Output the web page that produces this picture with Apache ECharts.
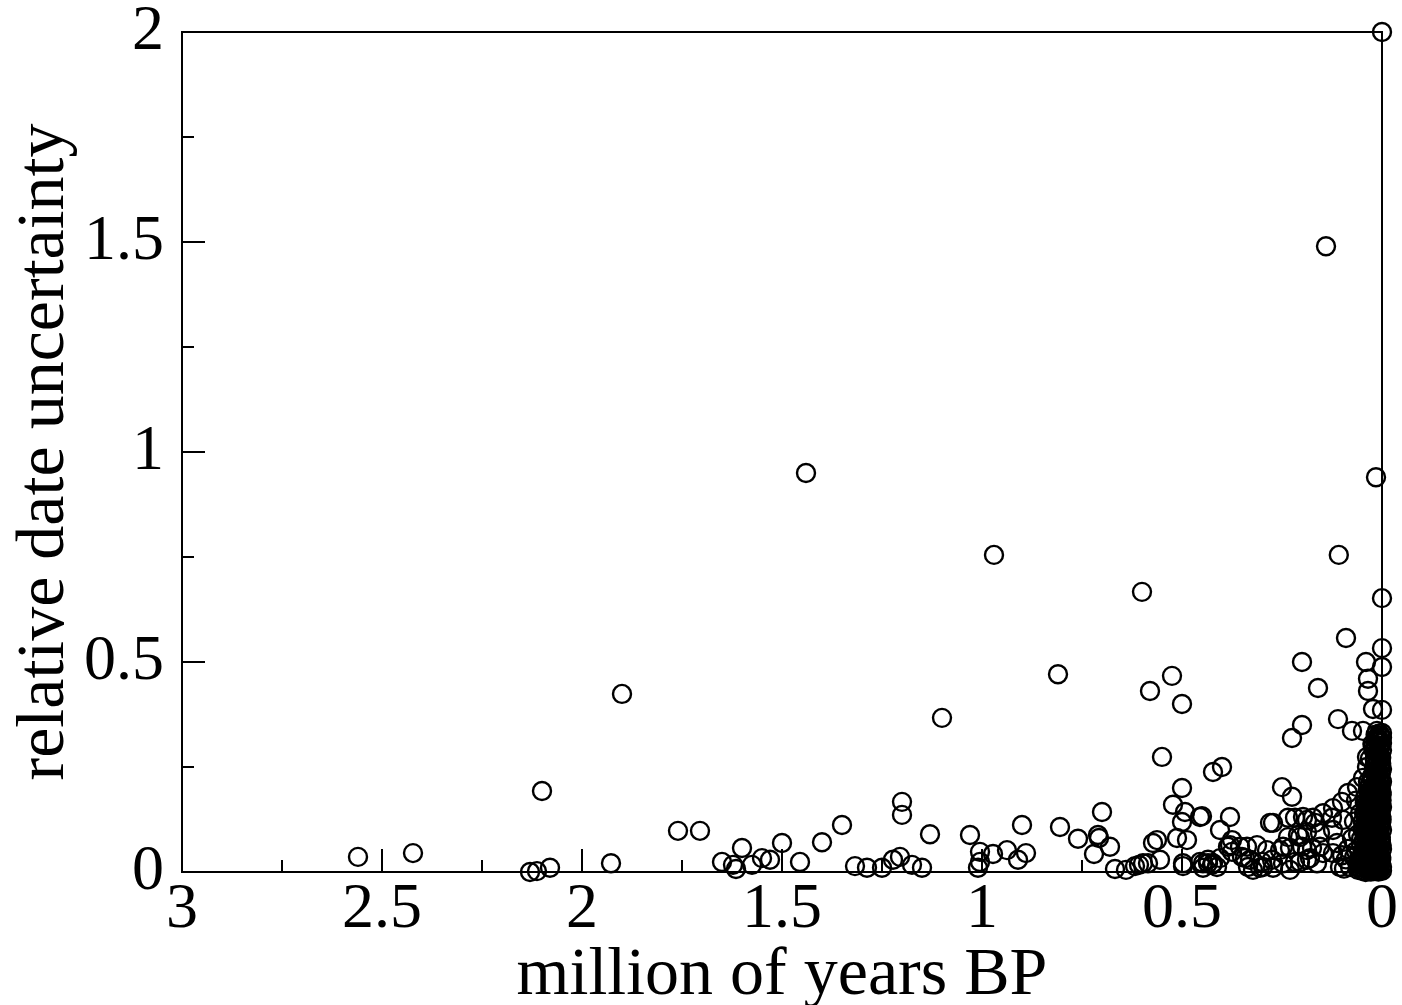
<!DOCTYPE html>
<html>
<head>
<meta charset="utf-8">
<script src="https://cdn.jsdelivr.net/npm/echarts@6/dist/echarts.min.js"></script>
<style>
  html, body { margin: 0; padding: 0; background: #fff; }
  #chart { width: 1402px; height: 1005px; }
</style>
</head>
<body>
<div id="chart"></div>
<script>
// Radiometric dates: age (million years before present) vs relative uncertainty.
// Older / scattered dates.
const ageMyr = [
  0, 0.14, 1.44, 0.015, 0.97, 0.108, 0, 0.6, 0.09, 0, 0.2, 0.04, 0, 0.035, 0.035, 0.16,
  0, 0.0225, 0.11, 0.075, 0.0475, 0.0125, 0, 0.2, 0.225, 0, 0.0225, 0.0375, 0.01, 0.0375,
  0.0175, 0.4, 0.4225, 0.25, 0.225, 0.0475, 0.0625, 0.085, 0.1, 0.1225, 0.1475, 0.1725,
  0.1975, 0.0975, 0.1225, 0.155, 0.1875, 0.1125, 0.1475, 0.18, 0.105, 0.38, 0.405, 0.38,
  0.375, 0.4475, 0.4225, 0.3375, 0.3125, 0.28, 0.235, 0.1875, 0.125, 0.205, 0.2475, 0.2875,
  0.1875, 0.155, 0.1225, 0.33, 0.2975, 0.2475, 0.205, 0.1625, 0.3225, 0.23, 0.4925, 0.4875,
  0.4975, 0.455, 0.435, 0.35, 0.2725, 0.2175, 0.1675, 0.21, 0.235, 0.255, 0.23, 0.2, 0.175,
  0.3, 0.275, 0.2175, 0.1875, 0.305, 0.2725, 0.425, 0.4475,
  1.1, 0.81, 0.525, 0.58, 0.5, 0.55, 0.5, 0.5225, 0.5, 0.5125, 0.4975, 0.555, 0.5725,
  0.5625, 0.585, 0.5975, 0.6075, 0.6175, 0.64, 0.6675, 0.68, 0.72, 0.7, 0.71, 0.7075, 0.76,
  0.805, 0.9, 0.89, 0.91, 0.9375, 0.9725, 1.005, 1.005, 1.01, 1.03, 1.13, 1.15, 1.175, 1.2,
  1.2, 1.205, 1.2225, 1.25, 1.2875, 1.3175, 1.35, 1.4, 1.455, 1.5, 1.53, 1.55, 1.575, 1.6,
  1.615, 1.6225, 1.65, 1.705, 1.76, 1.9, 1.9275, 2.1, 2.08, 2.1125, 2.13, 2.4225, 2.56,
  0.45, 0.385, 0.355, 0.3425, 0.335, 0.4125, 0.405, 0.435, 0.375, 0.455
];
const relUncertainty = [
  2.0, 1.49, 0.95, 0.94, 0.755, 0.755, 0.652, 0.667, 0.557, 0.533, 0.5, 0.5, 0.488, 0.46, 0.431, 0.438,
  0.386, 0.388, 0.364, 0.336, 0.336, 0.336, 0.331, 0.35, 0.319, 0.307, 0.298, 0.274, 0.26, 0.25,
  0.267, 0.25, 0.238, 0.202, 0.179, 0.224, 0.202, 0.188, 0.167, 0.152, 0.14, 0.129,
  0.131, 0.124, 0.1, 0.093, 0.095, 0.069, 0.045, 0.033, 0.012, 0.131, 0.1, 0.064,
  0.048, 0.021, 0.021, 0.06, 0.064, 0.117, 0.129, 0.124, 0.129, 0.083, 0.06, 0.052,
  0.052, 0.06, 0.045, 0.029, 0.012, 0.021, 0.024, 0.021, 0.005, 0.005, 0.143, 0.076,
  0.021, 0.024, 0.029, 0.036, 0.117, 0.129, 0.117, 0.088, 0.083, 0.052, 0.057, 0.06, 0.057,
  0.024, 0.029, 0.024, 0.029, 0.01, 0.01, 0.017, 0.01,
  0.367, 0.471, 0.467, 0.431, 0.4, 0.274, 0.2, 0.16, 0.119, 0.081, 0.014, 0.029, 0.069,
  0.076, 0.021, 0.021, 0.017, 0.014, 0.005, 0.007, 0.06, 0.043, 0.143, 0.088, 0.081, 0.079,
  0.107, 0.112, 0.045, 0.029, 0.052, 0.043, 0.048, 0.024, 0.01, 0.088, 0.09, 0.01, 0.017, 0.167,
  0.136, 0.036, 0.029, 0.01, 0.01, 0.014, 0.112, 0.071, 0.024, 0.069, 0.029, 0.033, 0.017, 0.057,
  0.007, 0.017, 0.024, 0.098, 0.098, 0.424, 0.021, 0.193, 0.01, 0.002, 0, 0.045, 0.036,
  0.133, 0.06, 0.06, 0.033, 0.012, 0.012, 0.033, 0.021, 0.076, 0.131
];
// Recent dates crowded near the present.
const recentAgeMyr = [
  0, 0.005, 0.01, 0.003, 0.008, 0.015, 0, 0.012, 0.004, 0.009, 0.002, 0.014, 0.006, 0.011, 0, 0.02, 0.018,
  0.003, 0.025, 0.008, 0.015, 0, 0.03, 0.021, 0.01, 0.004, 0.035, 0.017, 0.027, 0.001, 0.009, 0.04, 0.022,
  0.013, 0.032, 0.005, 0, 0.026, 0.018, 0.038, 0.01, 0.045, 0.029, 0.002, 0.02, 0.036, 0.012, 0.006, 0.042,
  0.024, 0.031, 0, 0.015, 0.048, 0.039, 0.008, 0.022, 0.033, 0.003, 0.045, 0.017, 0.027, 0.052, 0.011, 0.04,
  0, 0.021, 0.034, 0.006, 0.047, 0.014, 0.028, 0.055, 0.002, 0.038, 0.019, 0.01, 0.045, 0.03, 0, 0.024,
  0.058, 0.015, 0.036, 0.005, 0.05, 0.02, 0.009, 0, 0.041, 0.028, 0.003, 0.007, 0.016, 0.025, 0.013, 0.035,
  0.005, 0.019, 0.043, 0.031,
  0.02, 0.03, 0.015, 0.025, 0.035, 0.012, 0.028, 0.04, 0.018, 0.03, 0.042, 0.01, 0.025, 0.037, 0.02, 0.045,
  0.032, 0.015, 0.04, 0.025, 0.048, 0.033, 0.012, 0.02, 0.007, 0.027, 0.038, 0.023, 0.008, 0.033, 0.016,
  0.006, 0.012, 0.022, 0.03, 0.043, 0.05, 0.055, 0.06, 0.052, 0.048, 0.043,
  0.06, 0.07, 0.08, 0.065, 0.075, 0.09, 0.085, 0.06, 0.07, 0.055, 0.065, 0.095, 0.1
];
const recentRelUncertainty = [
  0.32, 0.325, 0.31, 0.3, 0.295, 0.315, 0.29, 0.285, 0.275, 0.265, 0.258, 0.255, 0.248, 0.242, 0.245, 0.25, 0.236,
  0.232, 0.228, 0.222, 0.218, 0.215, 0.21, 0.205, 0.2, 0.195, 0.198, 0.19, 0.186, 0.184, 0.178, 0.18, 0.172,
  0.168, 0.165, 0.162, 0.155, 0.155, 0.148, 0.15, 0.142, 0.14, 0.137, 0.133, 0.128, 0.125, 0.12, 0.113, 0.115,
  0.11, 0.103, 0.1, 0.098, 0.1, 0.092, 0.088, 0.085, 0.08, 0.076, 0.075, 0.072, 0.066, 0.063, 0.06, 0.058,
  0.055, 0.05, 0.047, 0.043, 0.042, 0.038, 0.034, 0.032, 0.03, 0.026, 0.023, 0.018, 0.016, 0.014, 0.012, 0.009,
  0.01, 0.006, 0.005, 0.004, 0.003, 0.002, 0.001, 0.003, 0, 0.001, 0.07, 0.13, 0.16, 0.09, 0.05, 0.11,
  0.175, 0.115, 0.03, 0.06,
  0.185, 0.175, 0.17, 0.16, 0.145, 0.15, 0.125, 0.13, 0.105, 0.095, 0.085, 0.082, 0.075, 0.068, 0.062, 0.052,
  0.04, 0.028, 0.02, 0.018, 0.01, 0.008, 0.01, 0.04, 0.025, 0.045, 0.1, 0.14, 0.155, 0.19, 0.205,
  0.22, 0.23, 0.19, 0.155, 0.06, 0.04, 0.02, 0.005, 0.08, 0.12, 0.165,
  0.02, 0.035, 0.012, 0.05, 0.08, 0.03, 0.055, 0.09, 0.12, 0.14, 0.17, 0.008, 0.04
];
// Holocene / late Pleistocene dates in the solid core of the cloud.
const coreAgeMyr = [
  0.001, 0.004, 0.007, 0.011, 0.014, 0.017, 0.021, 0.024, 0.027, 0.031, 0.034,
  0.002, 0.006, 0.009, 0.013, 0.019, 0.023, 0.029, 0.036, 0.039,
  0.001, 0.005, 0.012, 0.016, 0.022, 0.026, 0.032, 0.037,
  0.003, 0.008, 0.014, 0.018, 0.028, 0.033, 0.041, 0.044, 0.049,
  0.004, 0.011, 0.019, 0.026, 0.035,
  0.002, 0.009, 0.016, 0.024, 0.03,
  0.006, 0.013, 0.021,
  0.006, 0.013, 0.019, 0.026, 0.032, 0.008, 0.016, 0.023, 0.029, 0.035,
  0.004, 0.011, 0.018, 0.025, 0.031, 0.038, 0.007, 0.014, 0.021, 0.028,
  0.034, 0.003, 0.01, 0.017, 0.024, 0.03, 0.037, 0.005, 0.012, 0.019,
  0.026, 0.033, 0.008, 0.015, 0.022, 0.029, 0.004, 0.011, 0.018, 0.025,
  0.032, 0.007, 0.014, 0.021, 0.028, 0.003, 0.01, 0.017, 0.024, 0.006,
  0.013, 0.02, 0.004, 0.011, 0.018, 0.007, 0.014, 0.003, 0.009, 0.016,
  0.041, 0.046, 0.039, 0.044, 0.036, 0.042, 0.039, 0.001, 0.002, 0.001
];
const coreRelUncertainty = [
  0.19, 0.18, 0.165, 0.15, 0.135, 0.12, 0.108, 0.093, 0.078, 0.063, 0.048,
  0.035, 0.022, 0.012, 0.004, 0.168, 0.142, 0.118, 0.088, 0.052,
  0.125, 0.105, 0.085, 0.065, 0.045, 0.028, 0.015, 0.006,
  0.145, 0.158, 0.195, 0.178, 0.198, 0.185, 0.095, 0.035, 0.025,
  0.21, 0.26, 0.235, 0.225, 0.215,
  0.272, 0.28, 0.3, 0.305, 0.27,
  0.33, 0.32, 0.29,
  0.005, 0.011, 0.003, 0.013, 0.021, 0.019, 0.026, 0.031, 0.027, 0.038,
  0.037, 0.044, 0.049, 0.056, 0.052, 0.045, 0.058, 0.066, 0.071, 0.079,
  0.074, 0.083, 0.091, 0.086, 0.097, 0.112, 0.106, 0.108, 0.117, 0.124,
  0.121, 0.133, 0.139, 0.131, 0.146, 0.149, 0.152, 0.158, 0.163, 0.171,
  0.176, 0.177, 0.184, 0.179, 0.193, 0.199, 0.207, 0.213, 0.218, 0.226,
  0.238, 0.241, 0.252, 0.263, 0.268, 0.278, 0.296, 0.308, 0.318, 0.327,
  0.013, 0.026, 0.058, 0.094, 0.088, 0.142, 0.161, 0.064, 0.118, 0.171
];
const xTicks = { min: 0, max: 3, interval: 0.5 };
const yTicks = { min: 0, max: 2, interval: 0.5 };

const points = [];
ageMyr.forEach((a, i) => points.push([a, relUncertainty[i]]));
recentAgeMyr.forEach((a, i) => points.push([a, recentRelUncertainty[i]]));
coreAgeMyr.forEach((a, i) => points.push([a, coreRelUncertainty[i]]));

const FONT = 'Liberation Serif, Times New Roman, serif';
const axisCommon = {
  axisLine: { show: true, onZero: false, lineStyle: { color: '#000', width: 2 } },
  axisTick: { show: true, inside: true, length: 23, lineStyle: { color: '#000', width: 2 } },
  minorTick: { show: true, splitNumber: 2, length: 12, lineStyle: { color: '#000', width: 2 } },
  splitLine: { show: false },
  minorSplitLine: { show: false },
  nameMoveOverlap: false,
  nameTextStyle: { fontFamily: FONT, fontSize: 68, color: '#000' }
};

const chart = echarts.init(document.getElementById('chart'), null, { renderer: 'canvas' });
chart.setOption({
  backgroundColor: '#fff',
  animation: false,
  grid: {
    left: 182, right: 20, top: 32, bottom: 133,
    outerBoundsMode: 'none', containLabel: false,
    show: true, borderColor: '#000', borderWidth: 2, backgroundColor: 'transparent'
  },
  xAxis: Object.assign({}, axisCommon, {
    type: 'value', min: xTicks.min, max: xTicks.max, interval: xTicks.interval, inverse: true,
    name: 'million of years BP', nameLocation: 'middle', nameGap: 70,
    axisLabel: { fontFamily: FONT, fontSize: 64, color: '#000', margin: 6 }
  }),
  yAxis: Object.assign({}, axisCommon, {
    type: 'value', min: yTicks.min, max: yTicks.max, interval: yTicks.interval,
    name: 'relative date uncertainty', nameLocation: 'middle', nameGap: 103, nameRotate: 90,
    axisLabel: { fontFamily: FONT, fontSize: 64, color: '#000', margin: 18 }
  }),
  series: [{
    type: 'scatter',
    data: points,
    clip: false,
    symbol: 'circle',
    symbolSize: 18,
    itemStyle: { color: 'rgba(0,0,0,0)', borderColor: '#000', borderWidth: 2.4, opacity: 1 }
  }]
});
</script>
</body>
</html>
